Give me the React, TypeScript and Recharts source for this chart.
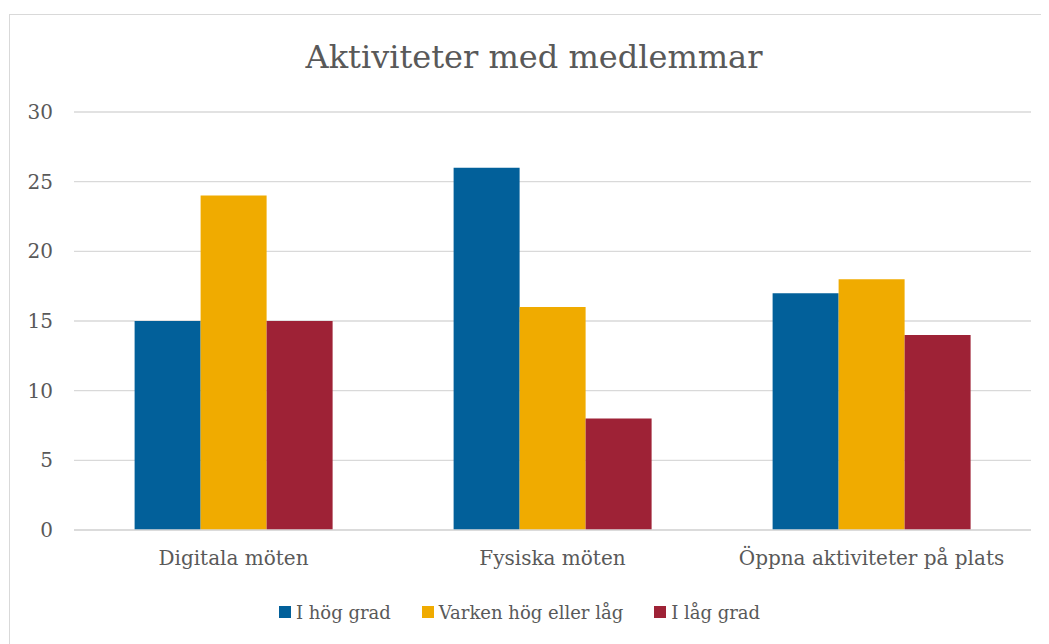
import React from "react";
import { BarChart, Bar, XAxis, YAxis, CartesianGrid, Legend } from "recharts";

const categories = ["Digitala möten", "Fysiska möten", "Öppna aktiviteter på plats"];
const hogGrad = [15, 26, 17];
const varken = [24, 16, 18];
const lagGrad = [15, 8, 14];
const yTicks = [0, 5, 10, 15, 20, 25, 30];
const seriesNames = ["I hög grad", "Varken hög eller låg", "I låg grad"];
const seriesColors = ["#02609A", "#F0AB00", "#9E2236"];

const data = categories.map((c, i) => ({
  name: c,
  a: hogGrad[i],
  b: varken[i],
  c: lagGrad[i],
}));

const FONT = "'DejaVu Serif', serif";
const TEXT = "#595959";

const renderLegend = (props: any) => {
  const payload = [...(props.payload || [])].sort(
    (p: any, q: any) => seriesNames.indexOf(p.value) - seriesNames.indexOf(q.value)
  );
  return (
    <div style={{ display: "flex", justifyContent: "center", alignItems: "center", fontFamily: FONT, fontSize: 18, color: TEXT, height: 30 }}>
      {payload.map((p: any, i: number) => (
        <div key={i} style={{ display: "flex", alignItems: "center", marginLeft: i === 0 ? 0 : 31 }}>
          <div style={{ width: 12, height: 12, background: p.color, marginRight: 5 }} />
          <span>{p.value}</span>
        </div>
      ))}
    </div>
  );
};

export default function App() {
  return (
    <div style={{ position: "relative", width: 1041, height: 636, overflow: "hidden", background: "#fff" }}>
      <div style={{ position: "absolute", left: 1, top: 6, width: 1100, height: 700, border: "1px solid #D9D9D9", boxSizing: "border-box" }} />
      <div style={{ position: "absolute", left: 0, top: 30, width: 1052, textAlign: "center", fontFamily: FONT, fontSize: 32, color: TEXT }}>
        Aktiviteter med medlemmar
      </div>
      <div style={{ position: "absolute", left: 0, top: 0 }}>
        <BarChart width={1041} height={636} data={data} margin={{ top: 104, right: 18, bottom: 17, left: 0 }} barCategoryGap="19%" barGap={0}>
          <CartesianGrid vertical={false} stroke="#D9D9D9" strokeWidth={1.3} />
          <XAxis dataKey="name" axisLine={{ stroke: "#D9D9D9", strokeWidth: 1.3 }} tickLine={false} tick={{ fontFamily: FONT, fontSize: 20, fill: TEXT }} tickMargin={15} height={67} />
          <YAxis domain={[0, 30]} ticks={yTicks} axisLine={false} tickLine={false} width={66} tickMargin={15} tick={{ fontFamily: FONT, fontSize: 20, fill: TEXT }} />
          <Legend content={renderLegend} verticalAlign="bottom" height={30} />
          <Bar dataKey="a" name={seriesNames[0]} fill={seriesColors[0]} isAnimationActive={false} />
          <Bar dataKey="b" name={seriesNames[1]} fill={seriesColors[1]} isAnimationActive={false} />
          <Bar dataKey="c" name={seriesNames[2]} fill={seriesColors[2]} isAnimationActive={false} />
        </BarChart>
      </div>
    </div>
  );
}
